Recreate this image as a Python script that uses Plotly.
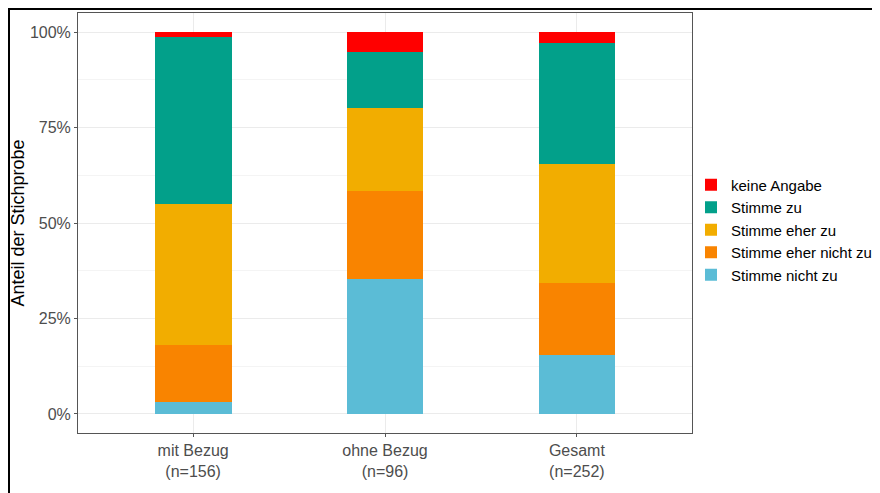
import plotly.graph_objects as go

categories = ["mit Bezug<br>(n=156)", "ohne Bezug<br>(n=96)", "Gesamt<br>(n=252)"]
stimme_nicht_zu = [0.032, 0.354, 0.155]
stimme_eher_nicht_zu = [0.148, 0.229, 0.187]
stimme_eher_zu = [0.371, 0.219, 0.313]
stimme_zu = [0.436, 0.146, 0.317]
keine_angabe = [0.013, 0.052, 0.028]

series = [
    ("Stimme nicht zu", stimme_nicht_zu, "#5BBCD6"),
    ("Stimme eher nicht zu", stimme_eher_nicht_zu, "#F98400"),
    ("Stimme eher zu", stimme_eher_zu, "#F2AD00"),
    ("Stimme zu", stimme_zu, "#02A08A"),
    ("keine Angabe", keine_angabe, "#FF0000"),
]

FONT = "Liberation Sans, Arial, Helvetica, sans-serif"

fig = go.Figure()
for name, vals, col in series:
    fig.add_trace(go.Bar(x=categories, y=vals, name=name,
                         marker=dict(color=col, line=dict(width=0)), width=0.4))

# page body has an 8px margin; figure coordinates = screen - 8
W, H = 872, 485
L, T = 70, 5
pw, ph = 614, 420
R = W - L - pw
B = H - T - ph

def px_x(x):
    return (x - L) / pw

def px_y(y):
    return (T + ph - y) / ph

fig.update_layout(
    width=W, height=H,
    barmode="stack",
    margin=dict(l=L, r=R, t=T, b=B, pad=0, autoexpand=False),
    paper_bgcolor="white",
    plot_bgcolor="white",
    font=dict(family=FONT, size=16, color="#4D4D4D"),
    showlegend=True,
    legend=dict(
        traceorder="reversed",
        x=px_x(683), xanchor="left",
        y=px_y(222), yanchor="middle",
        font=dict(family=FONT, size=15, color="black"),
        itemwidth=30,
        bgcolor="rgba(0,0,0,0)",
        tracegroupgap=0,
    ),
    xaxis=dict(
        range=[-0.6, 2.6],
        showline=True, linecolor="#555555", linewidth=1, mirror=True,
        showgrid=True, gridcolor="#EBEBEB", gridwidth=1,
        ticks="outside", ticklen=3, tickcolor="#555555",
        tickfont=dict(size=16, color="#4D4D4D"),
        zeroline=False,
    ),
    yaxis=dict(
        range=[-0.05, 1.05],
        tickvals=[0, 0.25, 0.5, 0.75, 1.0],
        ticktext=["0%", "25%", "50%", "75%", "100%"],
        showline=True, linecolor="#555555", linewidth=1, mirror=True,
        showgrid=True, gridcolor="#EBEBEB", gridwidth=1,
        minor=dict(tickvals=[0.125, 0.375, 0.625, 0.875], showgrid=True,
                   gridcolor="#F4F4F4", gridwidth=1),
        ticks="outside", ticklen=3, tickcolor="#555555",
        tickfont=dict(size=16, color="#4D4D4D"),
        title=dict(text="Anteil der Stichprobe", font=dict(size=18, color="black"), standoff=4),
        zeroline=False,
    ),
    shapes=[
        dict(type="rect", xref="paper", yref="paper",
             x0=px_x(1), x1=px_x(W + 20),
             y0=px_y(H + 20), y1=px_y(1),
             line=dict(color="black", width=2), fillcolor="rgba(0,0,0,0)", layer="above"),
    ],
)

fig.write_html("out.html")
